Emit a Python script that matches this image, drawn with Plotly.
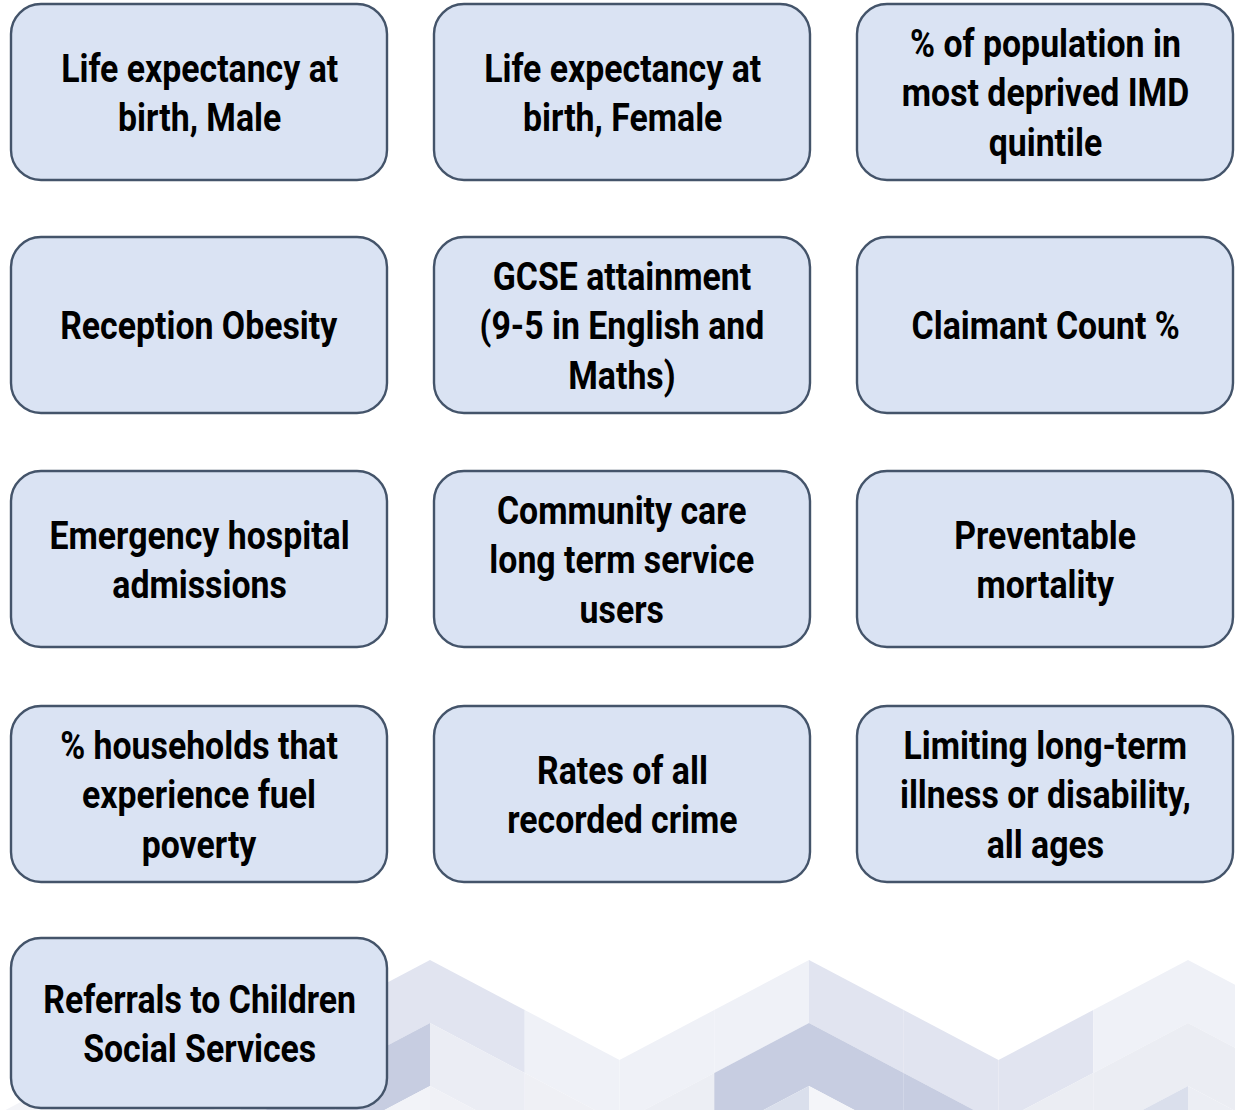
import plotly.graph_objects as go

# ---------------- data ----------------
labels = [
    "Life expectancy at<br>birth, Male",
    "Life expectancy at<br>birth, Female",
    "% of population in<br>most deprived IMD<br>quintile",
    "Reception Obesity",
    "GCSE attainment<br>(9-5 in English and<br>Maths)",
    "Claimant Count %",
    "Emergency hospital<br>admissions",
    "Community care<br>long term service<br>users",
    "Preventable<br>mortality",
    "% households that<br>experience fuel<br>poverty",
    "Rates of all<br>recorded crime",
    "Limiting long-term<br>illness or disability,<br>all ages",
    "Referrals to Children<br>Social Services",
]

# ---------------- layout constants ----------------
W, H = 1235, 1110
col_x = [(11, 387), (434, 810), (857, 1233)]
row_y = [(4, 180), (237, 413), (471, 647), (706, 882), (938, 1108)]
RADIUS = 30
FILL = "#dae3f3"
EDGE = "#44546a"
FONT = "Roboto, Liberation Sans, sans-serif"
TEXT_SQUEEZE = 0.89

# background chevron pattern (decorative)
PEAK0, PERIOD, TOP0, AMP, BAND = 430, 379, 960, 100, 63
band_colors = {
    0: {-6: "#ffffff", -5: "#ffffff", -4: "#f3f4f8", -3: "#f3f4f8", -2: "#e1e4f0", -1: "#e1e4f0",
        0: "#e1e4f0", 1: "#eff1f7", 2: "#eff1f7", 3: "#eff1f7", 4: "#e1e4f0",
        5: "#e1e4f0", 6: "#e1e4f0", 7: "#eff1f7", 8: "#eff1f7"},
    1: {-6: "#ffffff", -5: "#ffffff", -4: "#eceef4", -3: "#eceef4", -2: "#c7cde1", -1: "#c7cde1",
        0: "#ebedf4", 1: "#eff0f5", 2: "#eceef4", 3: "#c7cde1", 4: "#c7cde1",
        5: "#c7cde1", 6: "#ebedf3", 7: "#ebedf3", 8: "#ebedf3"},
    2: {-6: "#f3f4f8", -5: "#f3f4f8", -4: "#eceef4", -3: "#eceef4", -2: "#f2f3f8", -1: "#f2f3f8",
        0: "#f0f1f6", 1: "#f0f1f6", 2: "#eceef4", 3: "#dadfec", 4: "#f4f5f9",
        5: "#f4f5f9", 6: "#eceef4", 7: "#dadfec", 8: "#eceef4"},
    3: {m: "#f4f5f9" for m in range(-6, 9)},
}


def zig(x, k):
    q = PERIOD / 2
    d = (x - PEAK0) % PERIOD
    d = min(d, PERIOD - d)
    return TOP0 + BAND * k + AMP * d / q


shapes = []
quarter = PERIOD / 4
for k in range(4):
    for m in range(-6, 9):
        xa = PEAK0 + quarter * m
        xb = xa + quarter
        col = band_colors[k][m]
        path = (f"M{xa},{zig(xa, k)} L{xb},{zig(xb, k)} "
                f"L{xb},{zig(xb, k + 1)} L{xa},{zig(xa, k + 1)} Z")
        shapes.append(dict(type="path", path=path, xref="x", yref="y",
                           fillcolor=col, line=dict(width=0), layer="below"))


def rrect(x0, y0, x1, y1, r):
    c = r * (1 - 0.5523)
    return (f"M{x0 + r},{y0} L{x1 - r},{y0} C{x1 - c},{y0} {x1},{y0 + c} {x1},{y0 + r} "
            f"L{x1},{y1 - r} C{x1},{y1 - c} {x1 - c},{y1} {x1 - r},{y1} "
            f"L{x0 + r},{y1} C{x0 + c},{y1} {x0},{y1 - c} {x0},{y1 - r} "
            f"L{x0},{y0 + r} C{x0},{y0 + c} {x0 + c},{y0} {x0 + r},{y0} Z")


annotations = []
for i, lab in enumerate(labels):
    r, c = divmod(i, 3)
    x0, x1 = col_x[c]
    y0, y1 = row_y[r]
    shapes.append(dict(type="path", path=rrect(x0, y0, x1, y1, RADIUS), xref="x", yref="y",
                       fillcolor=FILL, line=dict(color=EDGE, width=2.4), layer="above"))
    annotations.append(dict(x=(x0 + x1) / 2, y=(y0 + y1) / 2 + 1, xref="x", yref="y",
                            text=lab, showarrow=False, xanchor="center", yanchor="middle",
                            align="center",
                            font=dict(family=FONT, size=38, color="#000000", weight="bold")))

fig = go.Figure()
fig.update_layout(
    width=W, height=H,
    margin=dict(l=0, r=0, t=0, b=0),
    paper_bgcolor="#ffffff", plot_bgcolor="#ffffff",
    xaxis=dict(range=[0, W], visible=False, fixedrange=True),
    yaxis=dict(range=[H, 0], visible=False, fixedrange=True),
    shapes=shapes, annotations=annotations, showlegend=False,
)

post = """
document.body.style.margin = '0';
document.body.style.overflow = 'hidden';
(function(){
  var gd = document.getElementById('{plot_id}');
  function squeeze(){
    var els = gd.querySelectorAll('text.annotation-text');
    els.forEach(function(el){
      if (el.getAttribute('data-sq') === '1') return;
      var b = el.getBBox();
      var cx = b.x + b.width / 2;
      var t = el.getAttribute('transform') || '';
      el.setAttribute('transform', t + ' translate(' + cx + ',0) scale(%s,1) translate(' + (-cx) + ',0)');
      el.setAttribute('data-sq', '1');
    });
  }
  squeeze();
  if (gd.on) gd.on('plotly_afterplot', squeeze);
  setTimeout(squeeze, 30);
})();
""" % TEXT_SQUEEZE

fig.write_html("out.html", post_script=post, config={"displayModeBar": False, "staticPlot": True})
